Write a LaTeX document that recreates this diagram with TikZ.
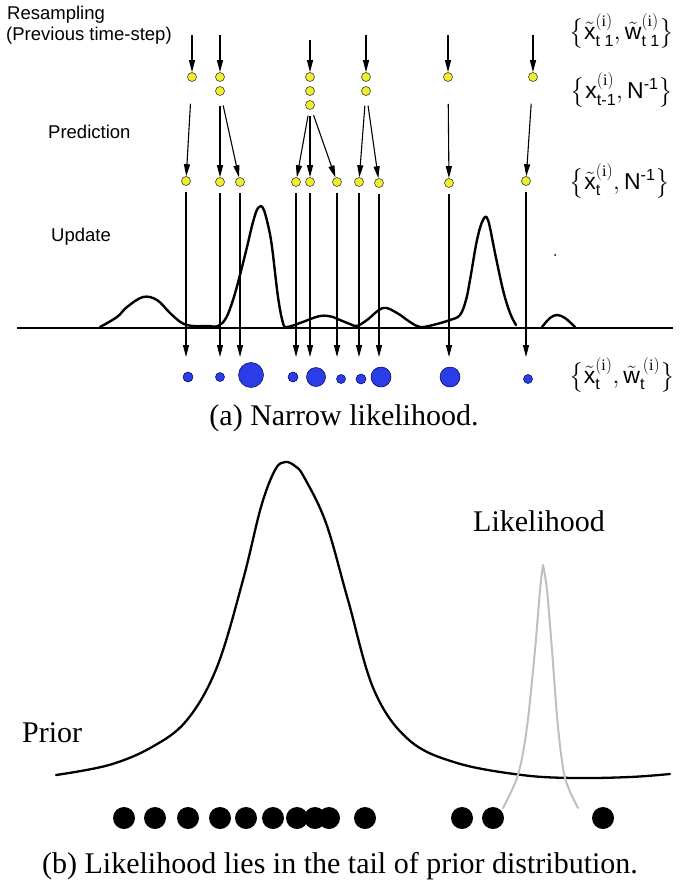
\documentclass[tikz,border=0pt]{standalone}
\usepackage{amsmath}
\usepackage{fontspec}
\setmainfont{Liberation Serif}
\newfontfamily\arial{Liberation Sans}
\usepackage{tikz}
\usetikzlibrary{arrows.meta}
\definecolor{amarelo}{HTML}{EEEE2C}
\definecolor{azulp}{HTML}{2B3DE6}
\definecolor{cinzaclaro}{HTML}{BCC0C0}

\begin{document}
\begin{tikzpicture}[x=1pt, y=-1pt,
  seta/.style={-{Triangle[length=12pt,width=6pt]}, line width=1.1pt},
  part/.style={circle, draw=black!75, line width=0.6pt, fill=amarelo,
               minimum size=9pt, inner sep=0pt},
  peso/.style={circle, draw=blue!35!black, line width=0.5pt, fill=azulp, inner sep=0pt},
  ponto/.style={circle, fill=black, minimum size=22pt, inner sep=0pt},
  rotulo/.style={font=\arial\fontsize{18.5}{22}\selectfont, inner sep=0pt},
  conj/.style={font=\arial\fontsize{23}{27}\selectfont, inner sep=0pt},
  legenda/.style={font=\fontsize{30}{34}\selectfont, inner sep=0pt},
  curva/.style={line width=2.4pt, line join=round, line cap=round}]

  \useasboundingbox (0,0) rectangle (680,883);

  \node[rotulo, anchor=base west] (reamostra) at (7,20) {Resampling};
  \node[rotulo, anchor=base west] (passo) at (6,41) {(Previous time-step)};
  \node[rotulo, anchor=base west] (predicao) at (48,138) {Prediction};
  \node[rotulo, anchor=base west] (atualiza) at (51,241) {Update};

  \node[conj] (c1) at (622,31) {$\bigl\{\tilde{\text{x}}^{(\mathrm{i})}_{\text{t 1}},\tilde{\text{w}}^{(\mathrm{i})}_{\text{t 1}}\bigr\}$};
  \node[conj] (c2) at (622,90) {$\bigl\{\text{x}^{(\mathrm{i})}_{\text{t-1}},\text{N}^{\text{-1}}\bigr\}$};
  \node[conj] (c3) at (620,181) {$\bigl\{\tilde{\text{x}}^{(\mathrm{i})}_{\text{t}},\text{N}^{\text{-1}}\bigr\}$};
  \node[conj] (c4) at (622,375) {$\bigl\{\tilde{\text{x}}^{(\mathrm{i})}_{\text{t}},\tilde{\text{w}}^{\,(\mathrm{i})}_{\text{t}}\bigr\}$};

  \node[part] (p1a) at (192,77) {};
  \node[part] (p2a) at (220,77) {};
  \node[part] (p2b) at (220,91) {};
  \node[part] (p3a) at (310,77) {};
  \node[part] (p3b) at (310,91) {};
  \node[part] (p3c) at (310,105) {};
  \node[part] (p4a) at (366,77) {};
  \node[part] (p4b) at (366,91) {};
  \node[part] (p5a) at (448,77) {};
  \node[part] (p6a) at (533,77) {};

  \node[part] (q1) at (186,181) {};
  \node[part] (q2) at (220,182) {};
  \node[part] (q3) at (240,182) {};
  \node[part] (q4) at (296,182) {};
  \node[part] (q5) at (310,182) {};
  \node[part] (q6) at (337,182) {};
  \node[part] (q7) at (359,182) {};
  \node[part] (q8) at (379,183) {};
  \node[part] (q9) at (449,183) {};
  \node[part] (q10) at (526,181) {};

  \node[peso, minimum size=10pt] (w1) at (188,377) {};
  \node[peso, minimum size=9pt] (w2) at (220,377) {};
  \node[peso, minimum size=25pt] (w3) at (251,375) {};
  \node[peso, minimum size=10pt] (w4) at (293,377) {};
  \node[peso, minimum size=19pt] (w5) at (316,377) {};
  \node[peso, minimum size=9pt] (w6) at (341,379) {};
  \node[peso, minimum size=10pt] (w7) at (361,379) {};
  \node[peso, minimum size=20pt] (w8) at (381,377) {};
  \node[peso, minimum size=20pt] (w9) at (450,377) {};
  \node[peso, minimum size=9pt] (w10) at (528,379) {};

  \coordinate (r1) at (192,35);
  \coordinate (r2) at (220,35);
  \coordinate (r3) at (310,40);
  \coordinate (r4) at (366,35);
  \coordinate (r5) at (448,35);
  \coordinate (r6) at (533,35);
  \coordinate (nivel) at (0,357);
  \coordinate (eixoe) at (17,328);
  \coordinate (eixod) at (673,328);

  \draw[seta] (r1) -- (p1a);
  \draw[seta] (r2) -- (p2a);
  \draw[seta] (r3) -- (p3a);
  \draw[seta] (r4) -- (p4a);
  \draw[seta] (r5) -- (p5a);
  \draw[seta] (r6) -- (p6a);

  \draw[seta, shorten <=22pt] (p1a) -- (q1);
  \draw[seta, shorten <=10pt] (p2b) -- (q2);
  \draw[seta, shorten <=10pt] (p2b) -- (q3);
  \draw[seta, shorten <=6pt] (p3c) -- (q4);
  \draw[seta, shorten <=6pt] (p3c) -- (q5);
  \draw[seta, shorten <=6pt] (p3c) -- (q6);
  \draw[seta, shorten <=10pt] (p4b) -- (q7);
  \draw[seta, shorten <=10pt] (p4b) -- (q8);
  \draw[seta, shorten <=22pt] (p5a) -- (q9);
  \draw[seta, shorten <=22pt] (p6a) -- (q10);

  \draw[line width=1.3pt] (eixoe) -- (eixod);
  \draw[curva] plot[smooth, tension=0.6] coordinates {(100,327) (117,317) (127,307) (143,297)
    (157,300) (170,313) (182,323) (193,326) (207,326) (218,326) (226,318) (233,300) (240,275)
    (247,247) (253,222) (258,208) (263,208) (268,225) (272,247) (278,297) (283,323) (287,327)
    (300,323) (320,316) (333,317) (340,320) (350,324) (357,326) (367,320) (383,308) (397,313)
    (410,322) (420,327) (433,325) (450,320) (460,315) (466,300) (470,280) (477,240) (483,220)
    (488,220) (495,253) (503,290) (510,313) (516,325)};
  \draw[curva] plot[smooth, tension=0.6] coordinates {(542,327) (550,318) (557,315) (565,318) (575,327)};
  \fill (555,255) circle (1pt);

  \draw[seta, shorten <=6pt] (q1) -- (q1 |- nivel);
  \draw[seta, shorten <=6pt] (q2) -- (q2 |- nivel);
  \draw[seta, shorten <=6pt] (q3) -- (q3 |- nivel);
  \draw[seta, shorten <=6pt] (q4) -- (q4 |- nivel);
  \draw[seta, shorten <=6pt] (q5) -- (q5 |- nivel);
  \draw[seta, shorten <=6pt] (q6) -- (q6 |- nivel);
  \draw[seta, shorten <=6pt] (q7) -- (q7 |- nivel);
  \draw[seta, shorten <=6pt] (q8) -- (q8 |- nivel);
  \draw[seta, shorten <=6pt] (q9) -- (q9 |- nivel);
  \draw[seta, shorten <=6pt] (q10) -- (q10 |- nivel);

  \node[legenda, anchor=base] (lega) at (344,425) {(a) Narrow likelihood.};

  \draw[curva, line width=2.3pt] plot[smooth, tension=0.6] coordinates {(56,775) (109,765) (152,747)
    (187,720) (217,667) (243,580) (261,507) (275,470) (285,462) (295,466) (304,477) (326,523)
    (348,600) (374,690) (409,740) (457,763) (522,775) (574,778) (630,777) (670,774)};
  \draw[line width=2pt, cinzaclaro, line cap=round] plot[smooth, tension=0.5] coordinates {(503,808)
    (518,775) (527,727) (535,650) (540,590) (543,565)};
  \draw[line width=2pt, cinzaclaro, line cap=round] plot[smooth, tension=0.5] coordinates {(543,565)
    (547,590) (552,650) (558,727) (565,778) (578,808)};

  \node[legenda, anchor=base west] (verossim) at (473,531) {Likelihood};
  \node[legenda, anchor=base west] (priori) at (22,742) {Prior};

  \node[ponto] (b1) at (124,818) {};
  \node[ponto] (b2) at (155,818) {};
  \node[ponto] (b3) at (188,818) {};
  \node[ponto] (b4) at (220,818) {};
  \node[ponto] (b5) at (246,818) {};
  \node[ponto] (b6) at (273,818) {};
  \node[ponto] (b7) at (297,818) {};
  \node[ponto] (b8) at (315,818) {};
  \node[ponto] (b9) at (329,818) {};
  \node[ponto] (b10) at (365,818) {};
  \node[ponto] (b11) at (462,818) {};
  \node[ponto] (b12) at (493,818) {};
  \node[ponto] (b13) at (603,818) {};

  \node[legenda, anchor=base] (legb) at (340,873) {(b) Likelihood lies in the tail of prior distribution.};
\end{tikzpicture}
\end{document}
